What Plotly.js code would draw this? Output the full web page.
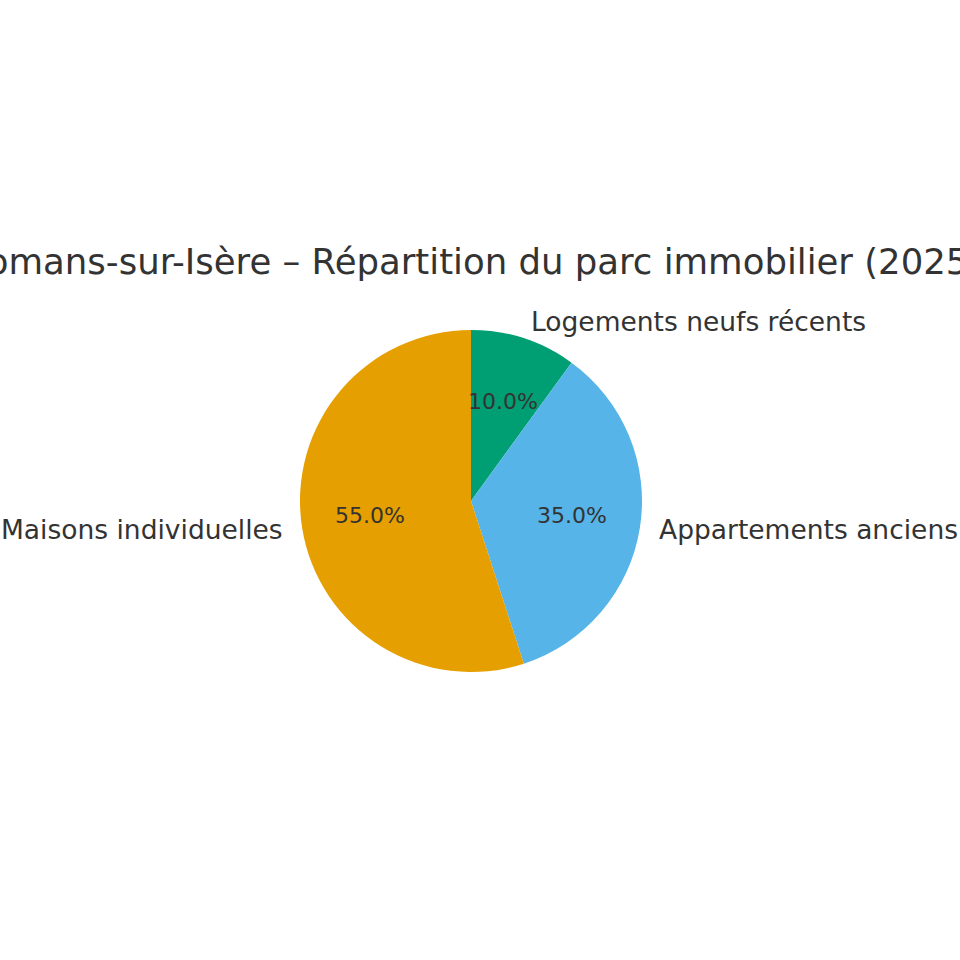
<!DOCTYPE html>
<html>
<head>
<meta charset="utf-8">
<script src="https://cdn.plot.ly/plotly-3.0.1.min.js"></script>
<style>
  html, body { margin: 0; padding: 0; background: #fff; }
  #plot { width: 960px; height: 960px; }
</style>
</head>
<body>
<div id="plot"></div>
<script>
// Data
var labels = ["Logements neufs récents", "Appartements anciens", "Maisons individuelles"];
var values = [10, 35, 55];
var colors = ["#009E73", "#56B4E9", "#E69F00"];

// Pie geometry (pixels, figure is 960x960)
var W = 960, H = 960;
var cxPx = 471, cyPx = 501, rPx = 171;

var total = values.reduce(function (a, b) { return a + b; }, 0);

// Slice labels: outside at 1.1 r, percentages inside at 0.6 r (clockwise from top)
var annotations = [];
var start = 90;
values.forEach(function (v, i) {
  var sweep = v / total * 360;
  var mid = (start - sweep / 2) * Math.PI / 180;
  start -= sweep;
  var cosA = Math.cos(mid), sinA = Math.sin(mid);
  annotations.push({
    xref: "paper", yref: "paper",
    x: (cxPx + 1.1 * rPx * cosA) / W,
    y: 1 - (cyPx - 1.1 * rPx * sinA) / H,
    text: labels[i],
    showarrow: false,
    xanchor: cosA >= 0 ? "left" : "right",
    yanchor: "middle",
    yshift: 1,
    font: { family: "DejaVu Sans", size: 26.5, color: "#333333" }
  });
  annotations.push({
    xref: "paper", yref: "paper",
    x: (cxPx + 0.6 * rPx * cosA) / W,
    y: 1 - (cyPx - 0.6 * rPx * sinA) / H,
    text: (v / total * 100).toFixed(1) + "%",
    showarrow: false,
    xanchor: "center",
    yanchor: "middle",
    yshift: 1.5,
    font: { family: "DejaVu Sans", size: 22, color: "#333333" }
  });
});

var trace = {
  type: "pie",
  labels: labels,
  values: values,
  marker: { colors: colors, line: { width: 0 } },
  sort: false,
  direction: "clockwise",
  rotation: 0,
  textinfo: "none",
  hoverinfo: "label+percent",
  showlegend: false,
  domain: {
    x: [(cxPx - rPx) / W, (cxPx + rPx) / W],
    y: [1 - (cyPx + rPx) / H, 1 - (cyPx - rPx) / H]
  }
};

var layout = {
  width: W,
  height: H,
  margin: { l: 0, r: 0, t: 0, b: 0 },
  paper_bgcolor: "#ffffff",
  title: {
    text: "Romans-sur-Isère – Répartition du parc immobilier (2025)",
    font: { family: "DejaVu Sans", size: 35.5, color: "#333333" },
    x: 473 / W,
    xanchor: "center",
    y: 1 - 261.5 / H,
    yanchor: "middle"
  },
  annotations: annotations
};

Plotly.newPlot("plot", [trace], layout, { displayModeBar: false, staticPlot: true });
</script>
</body>
</html>
